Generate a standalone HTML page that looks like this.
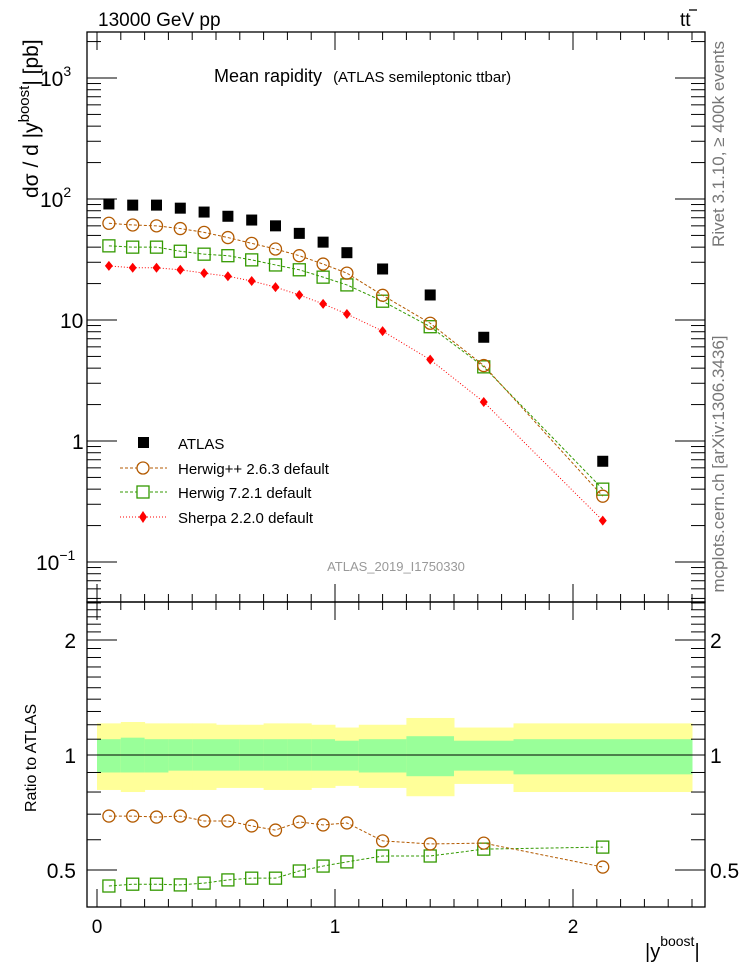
<!DOCTYPE html>
<html><head><meta charset="utf-8">
<style>
html,body{margin:0;padding:0;background:#fff;}
svg{display:block;font-family:"Liberation Sans",sans-serif;}
</style></head>
<body>
<svg id="chart" width="746" height="972" viewBox="0 0 746 972" xmlns="http://www.w3.org/2000/svg">
<g id="bands"></g>
<g id="marks"></g>
<g id="axes"></g>
<text x="98" y="26" font-size="19">13000 GeV pp</text>
<text x="680" y="26" font-size="19">tt</text>
<line x1="689" y1="10" x2="697" y2="10" stroke="#000" stroke-width="1.3"/>
<text x="214" y="82" font-size="18">Mean rapidity <tspan font-size="15" dx="6">(ATLAS semileptonic ttbar)</tspan></text>
<text x="396" y="571" font-size="13" fill="#999" text-anchor="middle">ATLAS_2019_I1750330</text>
<text transform="translate(724,144) rotate(-90)" font-size="17" fill="#777" text-anchor="middle">Rivet 3.1.10, ≥ 400k events</text>
<text transform="translate(724,464) rotate(-90)" font-size="17" fill="#777" text-anchor="middle">mcplots.cern.ch [arXiv:1306.3436]</text>
<text transform="translate(38,198) rotate(-90)" font-size="21" text-anchor="start">dσ / d |y<tspan font-size="15" dy="-9">boost</tspan><tspan dy="9">| [pb]</tspan></text>
<text transform="translate(36,812) rotate(-90)" font-size="16">Ratio to ATLAS</text>
<text x="645" y="958" font-size="20">|y<tspan font-size="14" dy="-12">boost</tspan><tspan dy="12">|</tspan></text>
<g>
<rect x="138" y="437" width="11" height="11" fill="#000"/>
<text x="178" y="449" font-size="15">ATLAS</text>
<line x1="120" y1="468" x2="167" y2="468" stroke="#b35a00" stroke-dasharray="3,2"/>
<circle cx="143" cy="468" r="6" fill="#fff" stroke="#b35a00" stroke-width="1.3"/>
<text x="178" y="474" font-size="15">Herwig++ 2.6.3 default</text>
<line x1="120" y1="492" x2="167" y2="492" stroke="#339900" stroke-dasharray="3,2"/>
<rect x="137" y="486" width="12" height="12" fill="#fff" stroke="#339900" stroke-width="1.3"/>
<text x="178" y="498" font-size="15">Herwig 7.2.1 default</text>
<line x1="120" y1="517" x2="167" y2="517" stroke="#f00" stroke-dasharray="1,2"/>
<path d="M143,511 L147,517 L143,523 L139,517 Z" fill="#f00"/>
<text x="178" y="523" font-size="15">Sherpa 2.2.0 default</text>
</g>
</svg>
<script>
const xCenters=[0.05,0.15,0.25,0.35,0.45,0.55,0.65,0.75,0.85,0.95,1.05,1.2,1.4,1.625,2.125];
const binEdges=[0,0.1,0.2,0.3,0.4,0.5,0.6,0.7,0.8,0.9,1.0,1.1,1.3,1.5,1.75,2.5];
const atlas=[91,89,89,84,78,72,67,60,52,44,36,26.4,16.1,7.2,0.68];
const herwigpp=[63,61,60,57,53,48,43,38.6,34,29,24.4,16,9.4,4.2,0.35];
const herwig7=[41,40,40,37,35,34,31.4,28.5,26,22.6,19.5,14.3,8.8,4.1,0.40];
const sherpa=[28,27,27,26,24.4,23,21,18.7,16.1,13.6,11.2,8.1,4.7,2.1,0.22];
const ratioHpp=[0.692,0.692,0.688,0.692,0.672,0.672,0.652,0.636,0.668,0.656,0.664,0.596,0.585,0.588,0.509];
const ratioH7=[0.454,0.459,0.459,0.457,0.462,0.471,0.476,0.476,0.497,0.512,0.525,0.544,0.544,0.567,0.574];
const greenHi=[1.10,1.11,1.10,1.10,1.10,1.10,1.10,1.10,1.10,1.10,1.09,1.10,1.12,1.09,1.10];
const greenLo=[0.90,0.90,0.90,0.91,0.91,0.91,0.91,0.91,0.91,0.91,0.91,0.90,0.88,0.91,0.89];
const yellowHi=[1.21,1.22,1.21,1.21,1.21,1.20,1.20,1.21,1.21,1.20,1.18,1.20,1.25,1.18,1.21];
const yellowLo=[0.81,0.80,0.81,0.81,0.81,0.82,0.82,0.81,0.81,0.82,0.83,0.82,0.78,0.84,0.80];
const mainTicks=[{v:0.1,t:"10",e:"−1"},{v:1,t:"1"},{v:10,t:"10"},{v:100,t:"10",e:"2"},{v:1000,t:"10",e:"3"}];
const ratioTicks=[0.5,1,2];
const xTicks=[0,1,2];

const L=87,R=705,T=32,M=602,B=907;
const X=v=>97+238*v;
const Y=v=>320-121*(Math.log10(v)-1);
const YR=v=>755-115*Math.log2(v);
const NS="http://www.w3.org/2000/svg";
function mk(p,tag,a){const e=document.createElementNS(NS,tag);for(const k in a)e.setAttribute(k,a[k]);p.appendChild(e);return e;}
const bands=document.getElementById('bands'),marks=document.getElementById('marks'),axes=document.getElementById('axes');

for(let i=0;i<xCenters.length;i++){
  const x0=X(binEdges[i]),x1=X(binEdges[i+1]);
  const y=mk(bands,'rect',{x:x0,y:YR(yellowHi[i]),width:x1-x0+0.5,height:YR(yellowLo[i])-YR(yellowHi[i]),fill:'#ffff99'});
  
  
  const g=mk(bands,'rect',{x:x0,y:YR(greenHi[i]),width:x1-x0+0.5,height:YR(greenLo[i])-YR(greenHi[i]),fill:'#99ff99'});
  
  
}
const ref=mk(bands,'line',{x1:X(binEdges[0]),x2:X(binEdges[binEdges.length-1]),y1:YR(1),y2:YR(1),stroke:'#000','stroke-width':1});



function series(vals,yf,color,dash,shape,name){
  const pts=vals.map((v,i)=>[X(xCenters[i]),yf(v)]);
  const pl=mk(marks,'polyline',{points:pts.map(p=>p.join(',')).join(' '),fill:'none',stroke:color,'stroke-width':1,'stroke-dasharray':dash});
  
  
  pts.forEach(p=>{
    let e;
    if(shape==='sq')e=mk(marks,'rect',{x:p[0]-6,y:p[1]-6,width:12,height:12,fill:'none',stroke:color,'stroke-width':1.3});
    else if(shape==='c')e=mk(marks,'circle',{cx:p[0],cy:p[1],r:6,fill:'none',stroke:color,'stroke-width':1.3});
    else e=mk(marks,'path',{d:`M${p[0]},${p[1]-5}L${p[0]+4},${p[1]}L${p[0]},${p[1]+5}L${p[0]-4},${p[1]}Z`,fill:color});
    
    
  });
}
series(sherpa,Y,'#f00','1,2','d','sherpa');
series(herwig7,Y,'#339900','3,2','sq','herwig7');
series(herwigpp,Y,'#b35a00','3,2','c','herwigpp');
atlas.forEach((v,i)=>{
  const r=mk(marks,'rect',{x:X(xCenters[i])-5.5,y:Y(v)-5.5,width:11,height:11,fill:'#000'});
  
  
});
series(ratioH7,YR,'#339900','3,2','sq','ratio-herwig7');
series(ratioHpp,YR,'#b35a00','3,2','c','ratio-herwigpp');

[[T,M],[M,B]].forEach(([a,b],k)=>{
  const f=mk(axes,'rect',{x:L,y:a,width:R-L,height:b-a,fill:'none',stroke:'#000','stroke-width':1.3});
  
  
});
function tick(x1,y1,x2,y2){mk(axes,'line',{x1,y1,x2,y2,stroke:'#000','stroke-width':1});}
for(let k=0;k<=25;k++){const v=k*0.1,x=X(v);if(x>R)break;const len=(k%10===0)?18:8;
  tick(x,M,x,M-len);tick(x,T,x,T+len);tick(x,B,x,B-len);tick(x,M,x,M+len);}
xTicks.forEach(v=>{const t=mk(axes,'text',{x:X(v),y:933,'font-size':19,'text-anchor':'middle'});t.textContent=v;
  
  });
for(let d=-2;d<=3;d++)for(let m=1;m<10;m++){const v=m*Math.pow(10,d),y=Y(v);if(y<T||y>M)continue;
  const len=m===1?30:14;tick(L,y,L+len,y);tick(R,y,R-len,y);}
mainTicks.forEach(o=>{const t=mk(axes,'text',{x:o.e?62:(o.t==="1"?72:60),y:Y(o.v)+8,'font-size':21});
  t.textContent=o.t;if(o.e){const s=mk(t,'tspan',{'font-size':14,dy:-10});s.textContent=o.e;}
  if(o.e)t.setAttribute('x',o.e==="−1"?36:40);
  
  });
for(let v=0.4;v<=2.6;v+=0.1){const y=YR(v);if(y<M||y>B)continue;const major=Math.abs(v-0.5)<1e-6||Math.abs(v-1)<1e-6||Math.abs(v-2)<1e-6;
  const len=major?30:14;tick(L,y,L+len,y);tick(R,y,R-len,y);}
ratioTicks.forEach(v=>{
  const t=mk(axes,'text',{x:76,y:YR(v)+8,'font-size':21,'text-anchor':'end'});t.textContent=v;
  
  
  const t2=mk(axes,'text',{x:710,y:YR(v)+8,'font-size':21});t2.textContent=v;
  
  });
</script>
</body></html>
